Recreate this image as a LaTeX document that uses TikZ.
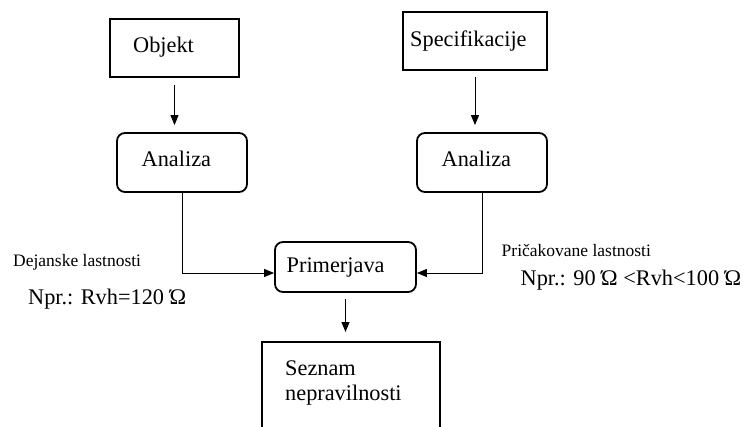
\documentclass[tikz,border=0pt]{standalone}
\usepackage{fontspec}
\setmainfont{Liberation Serif}
\usetikzlibrary{arrows.meta}
\begin{document}
\begin{tikzpicture}[x=1pt,y=-1pt,
  plainbox/.style={draw, line width=2pt, inner sep=0pt},
  roundbox/.style={draw, line width=1.8pt, rounded corners=8pt, inner sep=0pt},
  lbl/.style={font=\fontsize{22.3}{26}\selectfont, inner sep=0pt, anchor=base west},
  smalllbl/.style={font=\fontsize{17.5}{21}\selectfont, inner sep=0pt, anchor=base west},
  tip/.style={-{Triangle[length=10pt,width=8pt]}},
  flow/.style={line width=1pt, tip},
  link/.style={line width=1pt}]
\clip (0,0) rectangle (747,426);

% boxes
\node[plainbox, minimum width=129pt, minimum height=58pt] (objekt) at (174.5,48) {};
\node[plainbox, minimum width=144pt, minimum height=58pt] (spec) at (475,41) {};
\node[roundbox, minimum width=130pt, minimum height=59pt] (anaL) at (182,162.5) {};
\node[roundbox, minimum width=130pt, minimum height=59pt] (anaR) at (482,162.5) {};
\node[roundbox, minimum width=141pt, minimum height=50pt] (prim) at (345.5,267) {};
\node[plainbox, minimum width=178pt, minimum height=118pt] (sez) at (351,401) {};

% box texts
\node[lbl] (tObj) at (133,52) {Objekt};
\node[lbl] (tSpec) at (410,46) {Specifikacije};
\node[lbl] (tAnaL) at (141.5,166.5) {Analiza};
\node[lbl] (tAnaR) at (441.5,166.5) {Analiza};
\node[lbl] (tPrim) at (286.5,272.5) {Primerjava};
\node[lbl] (tSez1) at (285,375) {Seznam};
\node[lbl] (tSez2) at (285,400) {nepravilnosti};

% side labels
\node[smalllbl] (dej) at (13,266.5) {Dejanske lastnosti};
\node[lbl] (nprL) at (28,304) {Npr.: Rvh=120 Ώ};
\node[smalllbl] (pric) at (501.5,256) {Pričakovane lastnosti};
\node[lbl] (nprR) at (520.5,285) {Npr.: 90 Ώ <Rvh<100 Ώ};

% connectors
\draw[flow, shorten <=7pt, shorten >=7pt] (objekt.south) -- (objekt.south |- anaL.north);
\draw[flow, shorten <=6pt, shorten >=7pt] (spec.south) -- (spec.south |- anaR.north);
\draw[link, tip] (anaL.south) |- ([yshift=-6pt]prim.west);
\draw[link, tip] (anaR.south) |- ([yshift=-6pt]prim.east);
\draw[flow, shorten <=6pt, shorten >=9pt] (prim.south) -- (prim.south |- sez.north);
\end{tikzpicture}
\end{document}
